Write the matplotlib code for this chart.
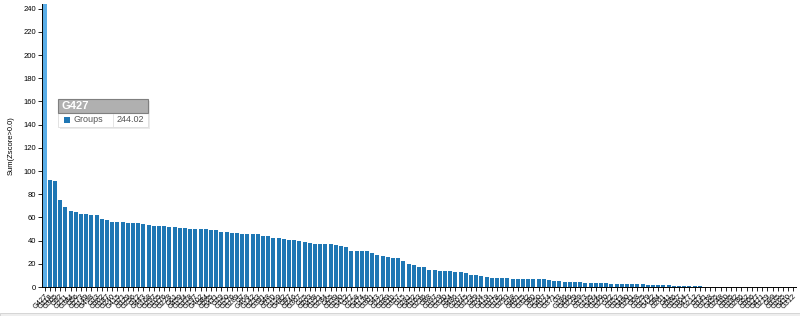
import matplotlib
matplotlib.use("Agg")
import matplotlib.pyplot as plt
from matplotlib.patches import Rectangle
import numpy as np

plt.rcParams['font.family'] = ['Liberation Sans', 'DejaVu Sans']

# group ids (x tick labels are "G" + id)
group_ids = [
    427, 118, 305, 92, 211, 384, 56, 273, 149, 498,
    33, 362, 187, 240, 415, 71, 329, 256, 12, 443,
    168, 297, 105, 376, 228, 61, 459, 134, 318, 197,
    402, 84, 265, 431, 19, 350, 176, 289, 7, 468,
    142, 233, 391, 48, 310, 159, 482, 97, 246, 367,
    25, 203, 438, 121, 284, 65, 339, 190, 412, 77,
    258, 474, 136, 301, 43, 222, 389, 110, 357, 15,
    281, 452, 163, 236, 88, 397, 129, 320, 54, 486,
    207, 345, 173, 29, 264, 419, 101, 378, 152, 293,
    38, 461, 215, 332, 80, 250, 407, 124, 371, 3,
    186, 446, 279, 59, 313, 195, 434, 146, 270, 22,
    352, 113, 490, 231, 68, 325, 179, 422, 94, 261,
    41, 386, 157, 304, 477, 212, 73, 341, 138, 455,
    248, 10, 395, 182, 286, 52, 366, 127, 471, 219,
    99, 335, 165, 410, 312,
]
labels = ["G%d" % g for g in group_ids]

# Sum(Zscore>0.0) per group
values = [
    244.02,
    92.5, 91.6, 74.7, 69.0, 65.2, 64.3, 63.2, 63.2, 62.0, 62.0,
    58.6, 57.8, 56.0, 56.0, 56.0, 55.4, 55.4, 55.4, 54.6, 53.4,
    52.8, 52.2, 52.2, 51.7, 51.7, 51.1, 51.1, 50.0, 50.0, 49.8,
    49.8, 49.0, 48.9, 47.5, 47.5, 46.6, 46.6, 45.7, 45.7, 45.7,
    45.7, 44.2, 44.2, 42.5, 42.5, 41.4, 40.5, 40.1, 40.0, 39.2,
    37.9, 37.3, 37.3, 37.1, 37.1, 36.2, 35.3, 34.5, 31.3, 31.3,
    31.0, 30.7, 29.6, 27.8, 27.0, 26.1, 24.7, 24.7, 22.1, 19.8,
    19.0, 17.6, 16.9, 14.3, 14.3, 13.4, 13.4, 13.4, 13.2, 12.9,
    11.7, 10.6, 10.3, 9.1, 8.6, 8.0, 8.0, 7.8, 7.4, 7.2,
    7.2, 6.9, 6.9, 6.6, 6.6, 6.5, 6.0, 5.4, 4.8, 4.3,
    4.3, 4.0, 4.0, 3.7, 3.4, 3.4, 3.1, 3.1, 2.8, 2.8,
    2.6, 2.6, 2.2, 2.2, 2.2, 2.0, 2.0, 1.7, 1.7, 1.4,
    1.2, 1.0, 0.9, 0.8, 0.6, 0.5, 0.3, 0.2, 0, 0,
    0, 0, 0, 0, 0, 0, 0, 0, 0, 0, 0, 0, 0, 0,
]

n = len(values)
x = np.arange(n)

W, H = 800, 316
fig = plt.figure(figsize=(W / 100, H / 100), dpi=100)
ax = fig.add_axes([42 / W, 29 / H, 754 / W, 283 / H])

colors = ['#1f77b4'] * n
colors[0] = '#5aaee8'  # hovered bar
ax.bar(x, values, width=0.75, color=colors)

ax.set_xlim(-0.5, n - 0.5)
ax.set_ylim(0, values[0])
ax.set_yticks(range(0, 241, 20))
ax.set_xticks(x)
ax.set_xticklabels(labels, rotation=45, ha='right', va='top',
                   rotation_mode='anchor', fontsize=5.3)
ax.tick_params(axis='y', labelsize=5.5, length=3, width=0.6, pad=1.5)
ax.tick_params(axis='x', length=3, width=0.6, pad=1)
for s in ['top', 'right']:
    ax.spines[s].set_visible(False)
for s in ['left', 'bottom']:
    ax.spines[s].set_linewidth(0.7)
ax.set_ylabel('Sum(Zscore>0.0)', fontsize=5.5, labelpad=6)


# tooltip (figure pixel coordinates)
def fx(px):
    return px / W


def fy(py):
    return 1 - py / H


tf = fig.transFigure
fig.add_artist(Rectangle((fx(60), fy(129)), 90 / W, 28 / H, transform=tf,
                         facecolor='#000000', alpha=0.08, lw=0))
fig.add_artist(Rectangle((fx(58), fy(127)), 90 / W, 14 / H, transform=tf,
                         facecolor='white', edgecolor='#dddddd', lw=0.6))
fig.add_artist(Rectangle((fx(58), fy(113)), 90 / W, 14 / H, transform=tf,
                         facecolor='#b0b0b0', edgecolor='#7f7f7f', lw=0.8))
fig.text(fx(62), fy(106), labels[0], transform=tf, color='white',
         fontsize=8, fontweight='bold', va='center', ha='left')
fig.add_artist(Rectangle((fx(64), fy(123)), 6 / W, 6 / H, transform=tf,
                         facecolor='#1f77b4', lw=0))
fig.text(fx(74), fy(120), 'Groups', transform=tf, color='#555555',
         fontsize=6.5, va='center', ha='left')
fig.add_artist(plt.Line2D([fx(113), fx(113)], [fy(114), fy(127)],
                          transform=tf, color='#e0e0e0', lw=0.6))
fig.text(fx(144), fy(120), '%.2f' % values[0], transform=tf,
         color='#555555', fontsize=6.5, va='center', ha='right')

# page border at the bottom
fig.add_artist(Rectangle((0, 0), 1, 3 / H, transform=tf,
                         facecolor='#eeeeee', edgecolor='#d0d0d0', lw=0.6))

fig.savefig('out.png', dpi=100)
